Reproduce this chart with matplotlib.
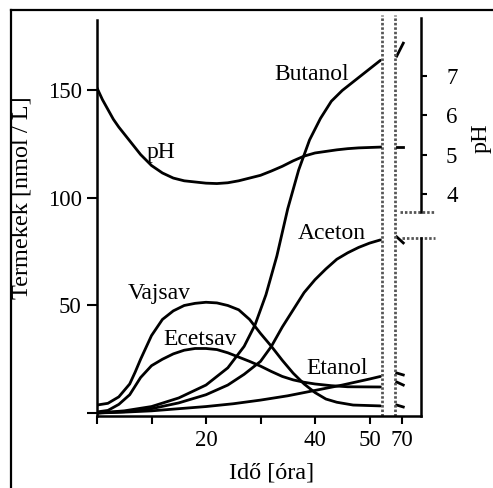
import numpy as np
import matplotlib
matplotlib.use("Agg")
import matplotlib.pyplot as plt
from matplotlib.lines import Line2D

plt.rcParams['font.family'] = ['Liberation Serif', 'DejaVu Serif']

# ---------------- data (hours, nmol/L, pH) ----------------
ph_t = [0, 1, 2, 3, 4, 6, 8, 10, 12, 14, 16, 18, 20, 22, 24, 26, 28, 30, 32, 34, 36, 38, 40, 42, 44, 46, 48, 52]
ph_v = [6.70, 6.40, 6.15, 5.90, 5.70, 5.35, 5.00, 4.72, 4.53, 4.40, 4.33, 4.30, 4.27, 4.26, 4.28, 4.33,
        4.40, 4.47, 4.58, 4.70, 4.84, 4.96, 5.04, 5.08, 5.12, 5.15, 5.17, 5.19]

butanol_t = [0, 5, 10, 15, 20, 24, 27, 29, 31, 33, 35, 37, 39, 41, 43, 45, 47, 49, 51, 52]
butanol_v = [0, 1, 3, 7, 13, 21, 31, 41, 55, 73, 95, 113, 127, 137, 145, 150, 154, 158, 162, 164]

aceton_t = [0, 5, 10, 15, 20, 24, 27, 30, 32, 34, 36, 38, 40, 42, 44, 46, 48, 50, 52]
aceton_v = [0, 0.6, 2, 4.7, 8.5, 13, 18, 24, 31, 40, 48, 56, 62, 67, 71.5, 74.5, 77, 79, 80.5]

vajsav_t = [0, 2, 4, 6, 7, 8, 10, 12, 14, 16, 18, 20, 22, 24, 26, 28, 30, 32, 34, 36, 38, 40, 42, 44, 47, 52]
vajsav_v = [3.7, 4.5, 7.5, 13.5, 19, 25, 36, 43.5, 47.5, 50, 51, 51.5, 51.2, 50, 48, 43.5, 37, 31,
            24.5, 18.5, 13.5, 9.5, 6.5, 5, 3.7, 3.3]

ecetsav_t = [0, 2, 4, 6, 8, 10, 12, 14, 16, 18, 20, 22, 24, 26, 28, 30, 32, 34, 36, 38, 40, 43, 46, 52]
ecetsav_v = [0.5, 1.2, 4, 8.5, 16.5, 22, 25, 27.5, 29.2, 30, 30, 29.5, 28, 26, 24, 21.8, 19.3, 17,
             15.4, 14.3, 13.5, 12.7, 12.2, 12.1]

etanol_t = [0, 5, 10, 15, 20, 25, 30, 35, 40, 45, 50, 52]
etanol_v = [0, 0.4, 1.0, 2.0, 3.0, 4.3, 6.0, 8.0, 10.5, 13.0, 15.8, 17.0]

# values after the axis break (around 70 h)
t70 = [69.0, 70.2]
butanol_70 = [166, 172]
aceton_70 = [81.9, 79.1]
etanol_70 = [18.6, 17.7]
ecetsav_70 = [14.4, 13.0]
vajsav_70 = [3.7, 2.8]
ph_70 = [5.18, 5.18]

xticks = [0, 10, 20, 30, 40, 50, 70]
xticklabels = ['', '', '20', '', '40', '50', '70']
yticks = [0, 50, 100, 150]
yticklabels = ['', '50', '100', '150']
phticks = [4, 5, 6, 7]

# ---------------- broken x-axis mapping ----------------
def pos(t):
    t = np.asarray(t, dtype=float)
    return np.where(t <= 60, t, t - 14.0)

W, H = 493, 488
fig = plt.figure(figsize=(W / 100, H / 100), dpi=100)
fig.patch.set_facecolor('white')

L, R, B, T = 97, 421, 416, 15
ax = fig.add_axes([L / W, (H - B) / H, (R - L) / W, (B - T) / H])
ax.set_xlim(0, (R - L) / 5.45)
ax.set_ylim(-1.395, 185.1)

ax2 = ax.twinx()
ax2.set_ylim(-1.67, 8.56)

lw = 2.0
for tt, vv in [(butanol_t, butanol_v), (aceton_t, aceton_v), (vajsav_t, vajsav_v),
               (ecetsav_t, ecetsav_v), (etanol_t, etanol_v)]:
    ax.plot(pos(tt), vv, color='black', lw=lw, solid_capstyle='round', solid_joinstyle='round')
for vv in [butanol_70, aceton_70, etanol_70, ecetsav_70, vajsav_70]:
    ax.plot(pos(t70), vv, color='black', lw=lw, clip_on=False)
ax2.plot(pos(ph_t), ph_v, color='black', lw=lw, solid_joinstyle='round')
ax2.plot(pos(t70), ph_70, color='black', lw=lw)

# break markers
dot = (0, (0.9, 0.7))
for xb in [52.3, 54.7]:
    ax.axvline(xb, color='#555555', lw=2.0, ls=dot, ymin=0, ymax=1.0)
ax2.plot([55.6, 62.0], [3.54, 3.54], color='#555555', lw=2.0, ls=dot, clip_on=False)
ax.plot([55.9, 62.0], [81.4, 81.4], color='#555555', lw=2.0, ls=dot, clip_on=False)

# spines
for a in (ax, ax2):
    a.spines['top'].set_visible(False)
ax2.spines['left'].set_visible(False)
ax2.spines['bottom'].set_visible(False)
for s in ['left', 'bottom', 'right']:
    ax.spines[s].set_linewidth(1.8)
ax2.spines['right'].set_linewidth(1.8)
ax.spines['left'].set_bounds(-1.395, 182.8)
ax.spines['right'].set_bounds(-1.395, 81.4)
ax2.spines['right'].set_bounds(3.54, 8.48)

fs = 16.5
ax.set_xticks(pos(xticks))
ax.set_xticklabels(xticklabels, fontsize=fs)
ax.set_yticks(yticks)
ax.set_yticklabels(yticklabels, fontsize=fs)
ax.tick_params(axis='x', direction='out', length=6, width=1.5, pad=4)
ax.tick_params(axis='y', direction='out', length=7, width=1.5, pad=4, right=False)
ax2.set_yticks(phticks)
ax2.set_yticklabels([str(v) for v in phticks], fontsize=fs)
ax2.tick_params(axis='y', direction='out', length=4, width=1.5, pad=14)

ax.set_ylabel('Termekek [nmol / L]', fontsize=17.5)
ax.yaxis.set_label_coords((33 - L) / (R - L), (B - 198) / (B - T))
ax.set_xlabel('Idő [óra]', fontsize=17.5)
ax.xaxis.set_label_coords((272 - L) / (R - L), (B - 463) / (B - T))
ax2.set_ylabel('pH', fontsize=17.5)
ax2.yaxis.set_label_coords((471 - L) / (R - L), (B - 138) / (B - T))

# curve labels
lab_fs = 17
ax2.text(pos(11.8), 5.05, 'pH', fontsize=lab_fs, ha='center', va='center')
ax.text(pos(39.3), 157.5, 'Butanol', fontsize=lab_fs, ha='center', va='center')
ax.text(pos(43.1), 83.5, 'Aceton', fontsize=lab_fs, ha='center', va='center')
ax.text(pos(11.4), 55.5, 'Vajsav', fontsize=lab_fs, ha='center', va='center')
ax.text(pos(18.9), 34.0, 'Ecetsav', fontsize=lab_fs, ha='center', va='center')
ax.text(pos(44.0), 20.5, 'Etanol', fontsize=lab_fs, ha='center', va='center')

# outer frame (scan border)
fx, fy = 11 / W, (H - 10) / H
fig.add_artist(Line2D([fx, 1.0], [fy, fy], transform=fig.transFigure, color='black', lw=1.6))
fig.add_artist(Line2D([fx, fx], [fy, 0.0], transform=fig.transFigure, color='black', lw=1.6))

fig.savefig('out.png', dpi=100)
